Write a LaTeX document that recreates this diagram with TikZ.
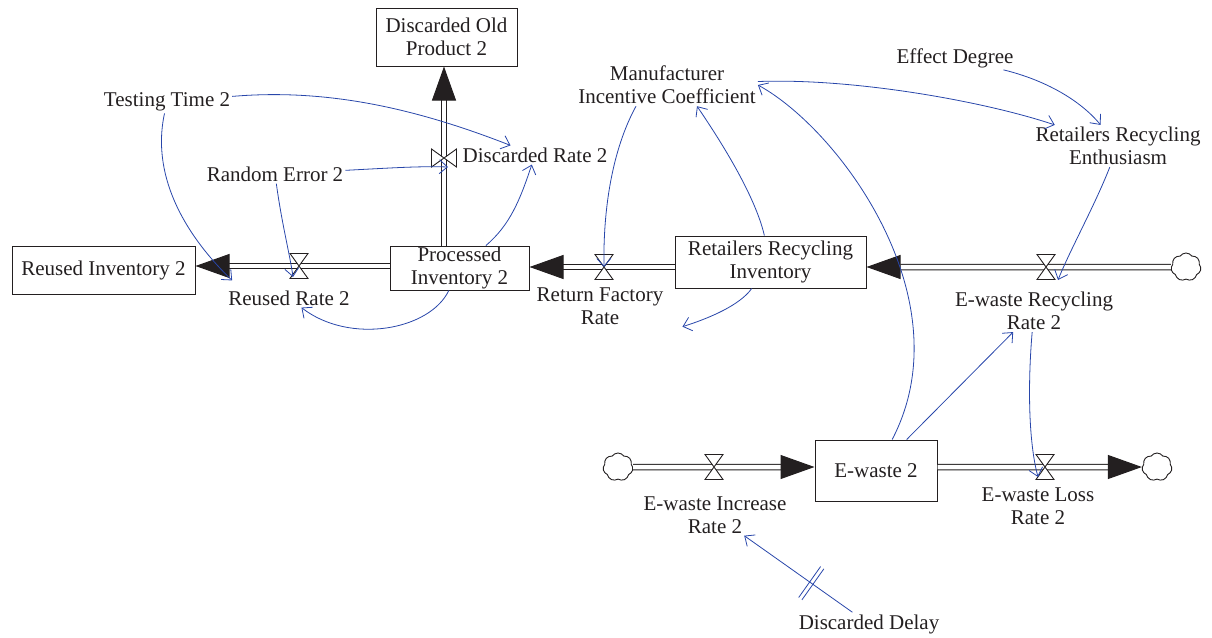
\documentclass[tikz,border=0pt]{standalone}
\usepackage{fontspec}
\setmainfont{Liberation Serif}
\usepackage{xcolor}
\definecolor{linkblue}{RGB}{40,70,170}
\definecolor{inkgray}{RGB}{35,31,32}
\usetikzlibrary{arrows.meta, shapes.symbols}

\begin{document}
\begin{tikzpicture}[
	x=1pt, y=-1pt,
	every node/.style={text=inkgray},
	lbl/.style={font=\fontsize{21}{23}\selectfont, align=center, inner sep=2pt},
	stock/.style={lbl, rectangle, draw=inkgray, line width=1pt, inner sep=0pt},
	cloudy/.style={cloud, cloud puffs=7, cloud puff arc=110, aspect=1, draw=inkgray, line width=0.9pt, minimum width=30pt, minimum height=28pt, inner sep=0pt, fill=white},
	pipe/.style={draw=inkgray, double=white, double distance=4.5pt, line width=1pt},
	flow/.style={pipe, -{Triangle[length=34pt, width=24pt]}},
	link/.style={draw=linkblue, line width=0.8pt, -{Straight Barb[length=8pt, width=14pt]}},
	valve/.pic={\draw[-, inkgray, line width=0.9pt, fill=white] (-9,-12.5) -- (9,-12.5) -- (-9,12.5) -- (9,12.5) -- cycle;},
	delay/.pic={\draw[-, linkblue, line width=0.8pt] (-2,-19) -- (-2,19) (2,-19) -- (2,19);}
	]
	\useasboundingbox (0,0) rectangle (1212,637);

	\node[stock, minimum width=141pt, minimum height=58pt] (discOld) at (446.5,37) {Discarded Old\\Product 2};
	\node[stock, minimum width=183pt, minimum height=48pt] (reuse) at (103.5,270) {Reused Inventory 2};
	\node[stock, minimum width=139pt, minimum height=44pt] (proc) at (459.5,268) {Processed\\Inventory 2};
	\node[stock, minimum width=191pt, minimum height=52pt] (retInv) at (770.5,262) {Retailers Recycling\\Inventory};
	\node[stock, minimum width=122pt, minimum height=61pt] (ewaste) at (876,470.5) {E-waste 2};

	\coordinate (vReuse) at (299,266);
	\coordinate (vDisc) at (444,158);
	\coordinate (vReturn) at (604,267);
	\coordinate (vRecyc) at (1046,267);
	\coordinate (vIncr) at (714,467);
	\coordinate (vLoss) at (1045,467);

	\node[cloudy] (cloudR) at (1186,267) {};
	\node[cloudy] (cloudIn) at (618,467) {};
	\node[cloudy] (cloudOut) at (1157,467) {};

	\node[lbl] (discRate) at (535,155) {Discarded Rate 2};
	\node[lbl] (reuseRate) at (289,298) {Reused Rate 2};
	\node[lbl] (returnRate) at (600,306) {Return Factory\\Rate};
	\node[lbl] (recycRate) at (1034,311) {E-waste Recycling\\Rate 2};
	\node[lbl] (incrRate) at (715,515) {E-waste Increase\\Rate 2};
	\node[lbl] (lossRate) at (1038,506) {E-waste Loss\\Rate 2};
	\node[lbl] (testTime) at (167,102) {Testing Time 2};
	\node[lbl] (randErr) at (275,174) {Random Error 2};
	\node[lbl] (manuCoef) at (667,85) {Manufacturer\\Incentive Coefficient};
	\node[lbl] (effDeg) at (955,58) {Effect Degree};
	\node[lbl] (retEnth) at (1118,146) {Retailers Recycling\\Enthusiasm};
	\node[lbl] (discDelay) at (869,624) {Discarded Delay};

	\draw[flow] (proc.west |- vReuse) -- (reuse.east |- vReuse);
	\draw[flow] (proc.north -| vDisc) -- (discOld.south -| vDisc);
	\draw[flow] (retInv.west |- vReturn) -- (proc.east |- vReturn);
	\draw[flow] (cloudR) -- (retInv.east |- cloudR);
	\draw[flow] (cloudIn) -- (ewaste.west |- cloudIn);
	\draw[flow] (ewaste.east |- cloudOut) -- (cloudOut);

	\pic at (vReuse) {valve};
	\pic[rotate=90] at (vDisc) {valve};
	\pic at (vReturn) {valve};
	\pic at (vRecyc) {valve};
	\pic at (vIncr) {valve};
	\pic at (vLoss) {valve};

	\draw[link] (testTime) .. controls (330,88) and (420,110) .. (discRate);
	\draw[link] (testTime) .. controls (150,180) and (190,240) .. ([shift={(6,-8)}]reuseRate.north west);
	\draw[link] (randErr) .. controls (390,168) and (420,166) .. ([shift={(4,9)}]vDisc);
	\draw[link] (randErr) .. controls (282,225) and (290,255) .. ([shift={(-6,11)}]vReuse);
	\draw[link] (proc) .. controls (430,330) and (350,345) .. (reuseRate);
	\draw[link] (proc) .. controls (510,225) and (520,200) .. (discRate);
	\draw[link] ([xshift=-31pt]manuCoef.south) .. controls (612,150) and (603,210) .. (vReturn);
	\draw[link] (retInv) .. controls (755,195) and (720,140) .. ([xshift=30pt]manuCoef.south);
	\draw[link] (retInv) .. controls (740,305) and (710,318) .. ([xshift=17pt]returnRate.south east);
	\draw[link] (manuCoef) .. controls (850,78) and (980,100) .. (retEnth);
	\draw[link] (effDeg) .. controls (1045,80) and (1080,100) .. (retEnth);
	\draw[link] (retEnth) .. controls (1095,205) and (1070,250) .. ([shift={(12,13)}]vRecyc);
	\draw[link] (ewaste) .. controls (965,300) and (840,130) .. (manuCoef.east);
	\draw[link] (ewaste) -- (recycRate);
	\draw[link] (recycRate) .. controls (1028,380) and (1028,440) .. ([shift={(-7,10)}]vLoss);
	\draw[link] (discDelay) -- pic[sloped, pos=.38] {delay} (incrRate);
\end{tikzpicture}
\end{document}
